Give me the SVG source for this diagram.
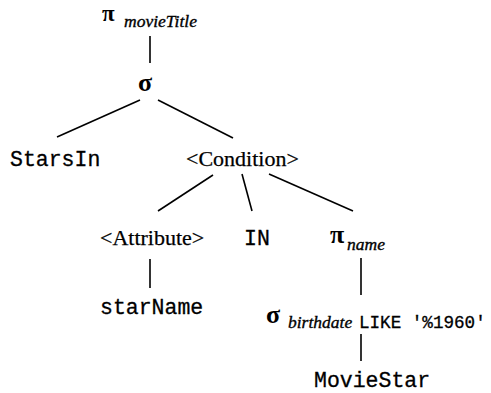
<svg xmlns="http://www.w3.org/2000/svg" width="491" height="393" viewBox="0 0 491 393">
<style>
.e{stroke:#000;stroke-width:1.6;fill:none}
.t{font-family:"Liberation Serif","Times New Roman",serif;font-size:22px;fill:#000;stroke:#000;stroke-width:0.25}
.g{font-family:"Liberation Serif","Times New Roman",serif;font-size:26px;font-weight:bold;fill:#000}
.s{font-family:"Liberation Serif","Times New Roman",serif;font-size:17.5px;font-style:italic;fill:#000;stroke:#000;stroke-width:0.35}
.m{font-family:"Liberation Mono","Courier New",monospace;font-size:21.5px;fill:#000;stroke:#000;stroke-width:0.3}
.ms{font-family:"Liberation Mono","Courier New",monospace;font-size:17.6px;fill:#000;stroke:#000;stroke-width:0.3}
</style>
<rect width="491" height="393" fill="#fff"/>
<g id="connectors">
<line class="e" x1="150" y1="36" x2="150" y2="63"/>
<line class="e" x1="140" y1="100" x2="57" y2="137"/>
<line class="e" x1="158" y1="100" x2="233" y2="138"/>
<line class="e" x1="213" y1="175" x2="158" y2="211"/>
<line class="e" x1="242" y1="174" x2="252" y2="211"/>
<line class="e" x1="269" y1="174" x2="353" y2="211"/>
<line class="e" x1="150" y1="259" x2="150" y2="288"/>
<line class="e" x1="361" y1="258" x2="361" y2="295"/>
<line class="e" x1="361" y1="334" x2="361" y2="361"/>
</g>
<g id="pi-movieTitle"><text class="g" x="102" y="21" style="font-size:23px">π</text><text class="s" x="124" y="27">movieTitle</text></g>
<g id="sigma"><text class="g" x="138" y="91">σ</text></g>
<g id="StarsIn"><text class="m" x="10" y="166">StarsIn</text></g>
<g id="Condition"><text class="t" x="186" y="166">&lt;Condition&gt;</text></g>
<g id="Attribute"><text class="t" x="100" y="245">&lt;Attribute&gt;</text></g>
<g id="IN"><text class="m" x="244" y="245">IN</text></g>
<g id="pi-name"><text class="g" x="330" y="243">π</text><text class="s" x="347" y="250">name</text></g>
<g id="starName"><text class="m" x="100" y="314">starName</text></g>
<g id="sigma-birthdate"><text class="g" x="266" y="323">σ</text><text class="s" x="288" y="328">birthdate</text><text class="ms" x="359" y="328">LIKE '%1960'</text></g>
<g id="MovieStar"><text class="m" x="314" y="387">MovieStar</text></g>
</svg>
